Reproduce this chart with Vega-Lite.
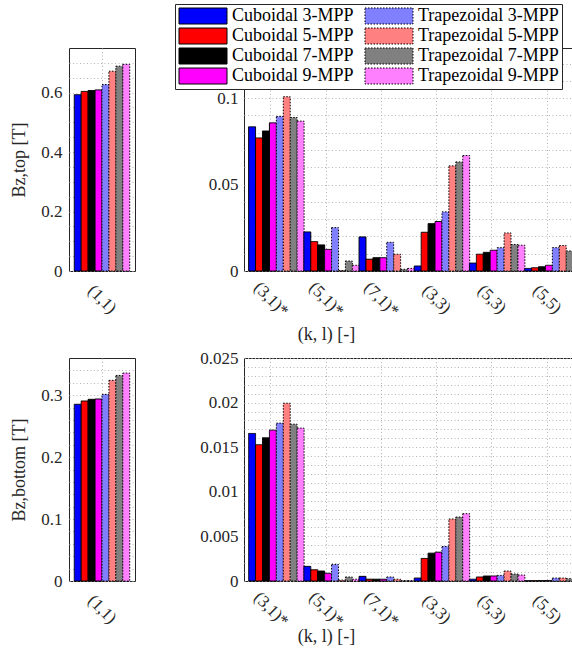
{
  "$schema": "https://vega.github.io/schema/vega-lite/v6.json",
  "padding": {"left": 9, "top": 3, "right": 0, "bottom": 0},
  "config": {
    "font": "Liberation Serif",
    "view": {"stroke": "#262626", "strokeWidth": 1},
    "axis": {
      "labelFont": "Liberation Serif", "labelFontSize": 17, "labelColor": "#262626",
      "titleFont": "Liberation Serif", "titleFontSize": 18, "titleFontWeight": "normal", "titleColor": "#262626",
      "domain": false, "ticks": false,
      "gridColor": "#b4b4b4", "gridDash": [1, 2.5], "gridWidth": 1,
      "labelOverlap": false, "labelFlush": false
    },
    "legend": {"labelFont": "Liberation Serif", "labelFontSize": 18, "labelColor": "#000000"}
  },
  "datasets": {
    "bz": [
      {"pos": "top", "kl": "(1,1)", "series": "Cuboidal 3-MPP", "B": 0.593},
      {"pos": "top", "kl": "(1,1)", "series": "Cuboidal 5-MPP", "B": 0.604},
      {"pos": "top", "kl": "(1,1)", "series": "Cuboidal 7-MPP", "B": 0.607},
      {"pos": "top", "kl": "(1,1)", "series": "Cuboidal 9-MPP", "B": 0.609},
      {"pos": "top", "kl": "(1,1)", "series": "Trapezoidal 3-MPP", "B": 0.627},
      {"pos": "top", "kl": "(1,1)", "series": "Trapezoidal 5-MPP", "B": 0.672},
      {"pos": "top", "kl": "(1,1)", "series": "Trapezoidal 7-MPP", "B": 0.689},
      {"pos": "top", "kl": "(1,1)", "series": "Trapezoidal 9-MPP", "B": 0.695},

      {"pos": "top", "kl": "(3,1)*", "series": "Cuboidal 3-MPP", "B": 0.0834},
      {"pos": "top", "kl": "(3,1)*", "series": "Cuboidal 5-MPP", "B": 0.077},
      {"pos": "top", "kl": "(3,1)*", "series": "Cuboidal 7-MPP", "B": 0.081},
      {"pos": "top", "kl": "(3,1)*", "series": "Cuboidal 9-MPP", "B": 0.0857},
      {"pos": "top", "kl": "(3,1)*", "series": "Trapezoidal 3-MPP", "B": 0.0894},
      {"pos": "top", "kl": "(3,1)*", "series": "Trapezoidal 5-MPP", "B": 0.1008},
      {"pos": "top", "kl": "(3,1)*", "series": "Trapezoidal 7-MPP", "B": 0.0888},
      {"pos": "top", "kl": "(3,1)*", "series": "Trapezoidal 9-MPP", "B": 0.0867},

      {"pos": "top", "kl": "(5,1)*", "series": "Cuboidal 3-MPP", "B": 0.0226},
      {"pos": "top", "kl": "(5,1)*", "series": "Cuboidal 5-MPP", "B": 0.017},
      {"pos": "top", "kl": "(5,1)*", "series": "Cuboidal 7-MPP", "B": 0.0151},
      {"pos": "top", "kl": "(5,1)*", "series": "Cuboidal 9-MPP", "B": 0.0125},
      {"pos": "top", "kl": "(5,1)*", "series": "Trapezoidal 3-MPP", "B": 0.0251},
      {"pos": "top", "kl": "(5,1)*", "series": "Trapezoidal 5-MPP", "B": 0.0003},
      {"pos": "top", "kl": "(5,1)*", "series": "Trapezoidal 7-MPP", "B": 0.0058},
      {"pos": "top", "kl": "(5,1)*", "series": "Trapezoidal 9-MPP", "B": 0.0033},

      {"pos": "top", "kl": "(7,1)*", "series": "Cuboidal 3-MPP", "B": 0.0197},
      {"pos": "top", "kl": "(7,1)*", "series": "Cuboidal 5-MPP", "B": 0.0068},
      {"pos": "top", "kl": "(7,1)*", "series": "Cuboidal 7-MPP", "B": 0.0077},
      {"pos": "top", "kl": "(7,1)*", "series": "Cuboidal 9-MPP", "B": 0.0077},
      {"pos": "top", "kl": "(7,1)*", "series": "Trapezoidal 3-MPP", "B": 0.0166},
      {"pos": "top", "kl": "(7,1)*", "series": "Trapezoidal 5-MPP", "B": 0.0097},
      {"pos": "top", "kl": "(7,1)*", "series": "Trapezoidal 7-MPP", "B": 0.001},
      {"pos": "top", "kl": "(7,1)*", "series": "Trapezoidal 9-MPP", "B": 0.0015},

      {"pos": "top", "kl": "(3,3)", "series": "Cuboidal 3-MPP", "B": 0.0029},
      {"pos": "top", "kl": "(3,3)", "series": "Cuboidal 5-MPP", "B": 0.0224},
      {"pos": "top", "kl": "(3,3)", "series": "Cuboidal 7-MPP", "B": 0.0274},
      {"pos": "top", "kl": "(3,3)", "series": "Cuboidal 9-MPP", "B": 0.0286},
      {"pos": "top", "kl": "(3,3)", "series": "Trapezoidal 3-MPP", "B": 0.0342},
      {"pos": "top", "kl": "(3,3)", "series": "Trapezoidal 5-MPP", "B": 0.0608},
      {"pos": "top", "kl": "(3,3)", "series": "Trapezoidal 7-MPP", "B": 0.0631},
      {"pos": "top", "kl": "(3,3)", "series": "Trapezoidal 9-MPP", "B": 0.0668},

      {"pos": "top", "kl": "(5,3)", "series": "Cuboidal 3-MPP", "B": 0.0046},
      {"pos": "top", "kl": "(5,3)", "series": "Cuboidal 5-MPP", "B": 0.0097},
      {"pos": "top", "kl": "(5,3)", "series": "Cuboidal 7-MPP", "B": 0.0108},
      {"pos": "top", "kl": "(5,3)", "series": "Cuboidal 9-MPP", "B": 0.012},
      {"pos": "top", "kl": "(5,3)", "series": "Trapezoidal 3-MPP", "B": 0.0135},
      {"pos": "top", "kl": "(5,3)", "series": "Trapezoidal 5-MPP", "B": 0.022},
      {"pos": "top", "kl": "(5,3)", "series": "Trapezoidal 7-MPP", "B": 0.0153},
      {"pos": "top", "kl": "(5,3)", "series": "Trapezoidal 9-MPP", "B": 0.0149},

      {"pos": "top", "kl": "(5,5)", "series": "Cuboidal 3-MPP", "B": 0.0015},
      {"pos": "top", "kl": "(5,5)", "series": "Cuboidal 5-MPP", "B": 0.0019},
      {"pos": "top", "kl": "(5,5)", "series": "Cuboidal 7-MPP", "B": 0.0025},
      {"pos": "top", "kl": "(5,5)", "series": "Cuboidal 9-MPP", "B": 0.0033},
      {"pos": "top", "kl": "(5,5)", "series": "Trapezoidal 3-MPP", "B": 0.0135},
      {"pos": "top", "kl": "(5,5)", "series": "Trapezoidal 5-MPP", "B": 0.0147},
      {"pos": "top", "kl": "(5,5)", "series": "Trapezoidal 7-MPP", "B": 0.0116},
      {"pos": "top", "kl": "(5,5)", "series": "Trapezoidal 9-MPP", "B": 0.0153},

      {"pos": "bottom", "kl": "(1,1)", "series": "Cuboidal 3-MPP", "B": 0.2853},
      {"pos": "bottom", "kl": "(1,1)", "series": "Cuboidal 5-MPP", "B": 0.2906},
      {"pos": "bottom", "kl": "(1,1)", "series": "Cuboidal 7-MPP", "B": 0.2933},
      {"pos": "bottom", "kl": "(1,1)", "series": "Cuboidal 9-MPP", "B": 0.2938},
      {"pos": "bottom", "kl": "(1,1)", "series": "Trapezoidal 3-MPP", "B": 0.3013},
      {"pos": "bottom", "kl": "(1,1)", "series": "Trapezoidal 5-MPP", "B": 0.3239},
      {"pos": "bottom", "kl": "(1,1)", "series": "Trapezoidal 7-MPP", "B": 0.3319},
      {"pos": "bottom", "kl": "(1,1)", "series": "Trapezoidal 9-MPP", "B": 0.3357},

      {"pos": "bottom", "kl": "(3,1)*", "series": "Cuboidal 3-MPP", "B": 0.01654},
      {"pos": "bottom", "kl": "(3,1)*", "series": "Cuboidal 5-MPP", "B": 0.01528},
      {"pos": "bottom", "kl": "(3,1)*", "series": "Cuboidal 7-MPP", "B": 0.01606},
      {"pos": "bottom", "kl": "(3,1)*", "series": "Cuboidal 9-MPP", "B": 0.01691},
      {"pos": "bottom", "kl": "(3,1)*", "series": "Trapezoidal 3-MPP", "B": 0.0177},
      {"pos": "bottom", "kl": "(3,1)*", "series": "Trapezoidal 5-MPP", "B": 0.01993},
      {"pos": "bottom", "kl": "(3,1)*", "series": "Trapezoidal 7-MPP", "B": 0.01758},
      {"pos": "bottom", "kl": "(3,1)*", "series": "Trapezoidal 9-MPP", "B": 0.01714},

      {"pos": "bottom", "kl": "(5,1)*", "series": "Cuboidal 3-MPP", "B": 0.00164},
      {"pos": "bottom", "kl": "(5,1)*", "series": "Cuboidal 5-MPP", "B": 0.00126},
      {"pos": "bottom", "kl": "(5,1)*", "series": "Cuboidal 7-MPP", "B": 0.00112},
      {"pos": "bottom", "kl": "(5,1)*", "series": "Cuboidal 9-MPP", "B": 0.00086},
      {"pos": "bottom", "kl": "(5,1)*", "series": "Trapezoidal 3-MPP", "B": 0.00186},
      {"pos": "bottom", "kl": "(5,1)*", "series": "Trapezoidal 5-MPP", "B": 0.0001},
      {"pos": "bottom", "kl": "(5,1)*", "series": "Trapezoidal 7-MPP", "B": 0.00045},
      {"pos": "bottom", "kl": "(5,1)*", "series": "Trapezoidal 9-MPP", "B": 0.0002},

      {"pos": "bottom", "kl": "(7,1)*", "series": "Cuboidal 3-MPP", "B": 0.00052},
      {"pos": "bottom", "kl": "(7,1)*", "series": "Cuboidal 5-MPP", "B": 0.0002},
      {"pos": "bottom", "kl": "(7,1)*", "series": "Cuboidal 7-MPP", "B": 0.0002},
      {"pos": "bottom", "kl": "(7,1)*", "series": "Cuboidal 9-MPP", "B": 0.0002},
      {"pos": "bottom", "kl": "(7,1)*", "series": "Trapezoidal 3-MPP", "B": 0.00045},
      {"pos": "bottom", "kl": "(7,1)*", "series": "Trapezoidal 5-MPP", "B": 0.0002},
      {"pos": "bottom", "kl": "(7,1)*", "series": "Trapezoidal 7-MPP", "B": 0.00004},
      {"pos": "bottom", "kl": "(7,1)*", "series": "Trapezoidal 9-MPP", "B": 0.00004},

      {"pos": "bottom", "kl": "(3,3)", "series": "Cuboidal 3-MPP", "B": 0.00033},
      {"pos": "bottom", "kl": "(3,3)", "series": "Cuboidal 5-MPP", "B": 0.00253},
      {"pos": "bottom", "kl": "(3,3)", "series": "Cuboidal 7-MPP", "B": 0.00312},
      {"pos": "bottom", "kl": "(3,3)", "series": "Cuboidal 9-MPP", "B": 0.00323},
      {"pos": "bottom", "kl": "(3,3)", "series": "Trapezoidal 3-MPP", "B": 0.00387},
      {"pos": "bottom", "kl": "(3,3)", "series": "Trapezoidal 5-MPP", "B": 0.00695},
      {"pos": "bottom", "kl": "(3,3)", "series": "Trapezoidal 7-MPP", "B": 0.00717},
      {"pos": "bottom", "kl": "(3,3)", "series": "Trapezoidal 9-MPP", "B": 0.00755},

      {"pos": "bottom", "kl": "(5,3)", "series": "Cuboidal 3-MPP", "B": 0.0002},
      {"pos": "bottom", "kl": "(5,3)", "series": "Cuboidal 5-MPP", "B": 0.00045},
      {"pos": "bottom", "kl": "(5,3)", "series": "Cuboidal 7-MPP", "B": 0.00056},
      {"pos": "bottom", "kl": "(5,3)", "series": "Cuboidal 9-MPP", "B": 0.00056},
      {"pos": "bottom", "kl": "(5,3)", "series": "Trapezoidal 3-MPP", "B": 0.00063},
      {"pos": "bottom", "kl": "(5,3)", "series": "Trapezoidal 5-MPP", "B": 0.00112},
      {"pos": "bottom", "kl": "(5,3)", "series": "Trapezoidal 7-MPP", "B": 0.00078},
      {"pos": "bottom", "kl": "(5,3)", "series": "Trapezoidal 9-MPP", "B": 0.00067},

      {"pos": "bottom", "kl": "(5,5)", "series": "Cuboidal 3-MPP", "B": 0.00004},
      {"pos": "bottom", "kl": "(5,5)", "series": "Cuboidal 5-MPP", "B": 0.00004},
      {"pos": "bottom", "kl": "(5,5)", "series": "Cuboidal 7-MPP", "B": 0.00005},
      {"pos": "bottom", "kl": "(5,5)", "series": "Cuboidal 9-MPP", "B": 0.00006},
      {"pos": "bottom", "kl": "(5,5)", "series": "Trapezoidal 3-MPP", "B": 0.00033},
      {"pos": "bottom", "kl": "(5,5)", "series": "Trapezoidal 5-MPP", "B": 0.00033},
      {"pos": "bottom", "kl": "(5,5)", "series": "Trapezoidal 7-MPP", "B": 0.00026},
      {"pos": "bottom", "kl": "(5,5)", "series": "Trapezoidal 9-MPP", "B": 0.00037}
    ]
  },
  "data": {"name": "bz"},
  "columns": 2,
  "bounds": "flush",
  "spacing": {"column": 109, "row": 87},
  "concat": [
    {
      "width": 66, "height": 223,
      "transform": [{"filter": "datum.pos === 'top' && datum.kl === '(1,1)'"}],
      "mark": {"type": "bar", "stroke": "black", "strokeWidth": 1},
      "encoding": {
        "x": {"field": "kl", "type": "nominal", "scale": {"paddingInner": 0.16, "paddingOuter": 0.08},
              "axis": {"title": null, "labelAngle": 45, "labelAlign": "center", "labelBaseline": "middle", "labelPadding": 28, "grid": true}},
        "xOffset": {"field": "series", "type": "nominal", "scale": {"paddingInner": 0, "paddingOuter": 0, "domain": ["Cuboidal 3-MPP", "Cuboidal 5-MPP", "Cuboidal 7-MPP", "Cuboidal 9-MPP", "Trapezoidal 3-MPP", "Trapezoidal 5-MPP", "Trapezoidal 7-MPP", "Trapezoidal 9-MPP"]}},
        "y": {"field": "B", "type": "quantitative", "scale": {"domain": [0, 0.75], "nice": false, "zero": true},
              "axis": {"title": "Bz,top [T]", "values": [0, 0.05, 0.1, 0.15, 0.2, 0.25, 0.3, 0.35, 0.4, 0.45, 0.5, 0.55, 0.6, 0.65, 0.7], "format": "~g",
                       "labelExpr": "indexof(['0','0.2','0.4','0.6'], datum.label) >= 0 ? datum.label : ''",
                       "grid": true, "labelPadding": 7, "titleX": -50, "titleY": 111.5, "titleAngle": -90, "titleAlign": "center", "titleBaseline": "middle"}},
        "color": {"field": "series", "type": "nominal",
                  "scale": {"domain": ["Cuboidal 3-MPP", "Cuboidal 5-MPP", "Cuboidal 7-MPP", "Cuboidal 9-MPP", "Trapezoidal 3-MPP", "Trapezoidal 5-MPP", "Trapezoidal 7-MPP", "Trapezoidal 9-MPP"],
                            "range": ["#0000ff", "#ff0000", "#000000", "#ff00ff", "#8080ff", "#ff8080", "#808080", "#ff80ff"]},
                  "legend": {"title": null, "orient": "none", "legendX": 106, "legendY": -44, "columns": 2, "columnPadding": 9, "rowPadding": 0,
                             "symbolType": "M-1,-1H5V1H-1Z", "symbolSize": 256, "labelOffset": 36, "symbolStrokeColor": "black", "symbolStrokeWidth": 1,
                             "padding": 3, "strokeColor": "#262626", "fillColor": "white", "symbolOpacity": 1}},
        "strokeDash": {"field": "series", "type": "nominal",
                       "scale": {"domain": ["Cuboidal 3-MPP", "Cuboidal 5-MPP", "Cuboidal 7-MPP", "Cuboidal 9-MPP", "Trapezoidal 3-MPP", "Trapezoidal 5-MPP", "Trapezoidal 7-MPP", "Trapezoidal 9-MPP"],
                                 "range": [[1, 0], [1, 0], [1, 0], [1, 0], [1.5, 1.5], [1.5, 1.5], [1.5, 1.5], [1.5, 1.5]]},
                       "legend": {"title": null}}
      }
    },
    {
      "width": 330, "height": 223,
      "transform": [{"filter": "datum.pos === 'top' && datum.kl !== '(1,1)'"}],
      "mark": {"type": "bar", "stroke": "black", "strokeWidth": 1},
      "encoding": {
        "x": {"field": "kl", "type": "nominal", "sort": ["(3,1)*", "(5,1)*", "(7,1)*", "(3,3)", "(5,3)", "(5,5)"], "scale": {"paddingInner": 0.19, "paddingOuter": 0.084},
              "axis": {"title": "(k, l) [-]", "labelAngle": 45, "labelAlign": "center", "labelBaseline": "middle", "labelPadding": 28, "grid": true,
                       "titleX": 82, "titleY": 63, "titleAlign": "center", "titleBaseline": "middle"}},
        "xOffset": {"field": "series", "type": "nominal", "scale": {"paddingInner": 0, "paddingOuter": 0, "domain": ["Cuboidal 3-MPP", "Cuboidal 5-MPP", "Cuboidal 7-MPP", "Cuboidal 9-MPP", "Trapezoidal 3-MPP", "Trapezoidal 5-MPP", "Trapezoidal 7-MPP", "Trapezoidal 9-MPP"]}},
        "y": {"field": "B", "type": "quantitative", "scale": {"domain": [0, 0.129], "nice": false, "zero": true},
              "axis": {"title": null, "values": [0, 0.01, 0.02, 0.03, 0.04, 0.05, 0.06, 0.07, 0.08, 0.09, 0.1, 0.11, 0.12], "format": "~g",
                       "labelExpr": "indexof(['0','0.05','0.1'], datum.label) >= 0 ? datum.label : ''",
                       "grid": true, "labelPadding": 6}},
        "color": {"field": "series", "type": "nominal"},
        "strokeDash": {"field": "series", "type": "nominal"}
      }
    },
    {
      "width": 66, "height": 223,
      "transform": [{"filter": "datum.pos === 'bottom' && datum.kl === '(1,1)'"}],
      "mark": {"type": "bar", "stroke": "black", "strokeWidth": 1},
      "encoding": {
        "x": {"field": "kl", "type": "nominal", "scale": {"paddingInner": 0.16, "paddingOuter": 0.08},
              "axis": {"title": null, "labelAngle": 45, "labelAlign": "center", "labelBaseline": "middle", "labelPadding": 28, "grid": true}},
        "xOffset": {"field": "series", "type": "nominal", "scale": {"paddingInner": 0, "paddingOuter": 0, "domain": ["Cuboidal 3-MPP", "Cuboidal 5-MPP", "Cuboidal 7-MPP", "Cuboidal 9-MPP", "Trapezoidal 3-MPP", "Trapezoidal 5-MPP", "Trapezoidal 7-MPP", "Trapezoidal 9-MPP"]}},
        "y": {"field": "B", "type": "quantitative", "scale": {"domain": [0, 0.36], "nice": false, "zero": true},
              "axis": {"title": "Bz,bottom [T]", "values": [0, 0.02, 0.04, 0.06, 0.08, 0.1, 0.12, 0.14, 0.16, 0.18, 0.2, 0.22, 0.24, 0.26, 0.28, 0.3, 0.32, 0.34], "format": "~g",
                       "labelExpr": "indexof(['0','0.1','0.2','0.3'], datum.label) >= 0 ? datum.label : ''",
                       "grid": true, "labelPadding": 7, "titleX": -50, "titleY": 111.5, "titleAngle": -90, "titleAlign": "center", "titleBaseline": "middle"}},
        "color": {"field": "series", "type": "nominal"},
        "strokeDash": {"field": "series", "type": "nominal"}
      }
    },
    {
      "width": 330, "height": 223,
      "transform": [{"filter": "datum.pos === 'bottom' && datum.kl !== '(1,1)'"}],
      "mark": {"type": "bar", "stroke": "black", "strokeWidth": 1},
      "encoding": {
        "x": {"field": "kl", "type": "nominal", "sort": ["(3,1)*", "(5,1)*", "(7,1)*", "(3,3)", "(5,3)", "(5,5)"], "scale": {"paddingInner": 0.19, "paddingOuter": 0.084},
              "axis": {"title": "(k, l) [-]", "labelAngle": 45, "labelAlign": "center", "labelBaseline": "middle", "labelPadding": 28, "grid": true,
                       "titleX": 82, "titleY": 55, "titleAlign": "center", "titleBaseline": "middle"}},
        "xOffset": {"field": "series", "type": "nominal", "scale": {"paddingInner": 0, "paddingOuter": 0, "domain": ["Cuboidal 3-MPP", "Cuboidal 5-MPP", "Cuboidal 7-MPP", "Cuboidal 9-MPP", "Trapezoidal 3-MPP", "Trapezoidal 5-MPP", "Trapezoidal 7-MPP", "Trapezoidal 9-MPP"]}},
        "y": {"field": "B", "type": "quantitative", "scale": {"domain": [0, 0.025], "nice": false, "zero": true},
              "axis": {"title": null, "values": [0, 0.001, 0.002, 0.003, 0.004, 0.005, 0.006, 0.007, 0.008, 0.009, 0.01, 0.011, 0.012, 0.013, 0.014, 0.015, 0.016, 0.017, 0.018, 0.019, 0.02, 0.021, 0.022, 0.023, 0.024, 0.025], "format": "~g",
                       "labelExpr": "indexof(['0','0.005','0.01','0.015','0.02','0.025'], datum.label) >= 0 ? datum.label : ''",
                       "grid": true, "labelPadding": 6}},
        "color": {"field": "series", "type": "nominal"},
        "strokeDash": {"field": "series", "type": "nominal"}
      }
    }
  ]
}
